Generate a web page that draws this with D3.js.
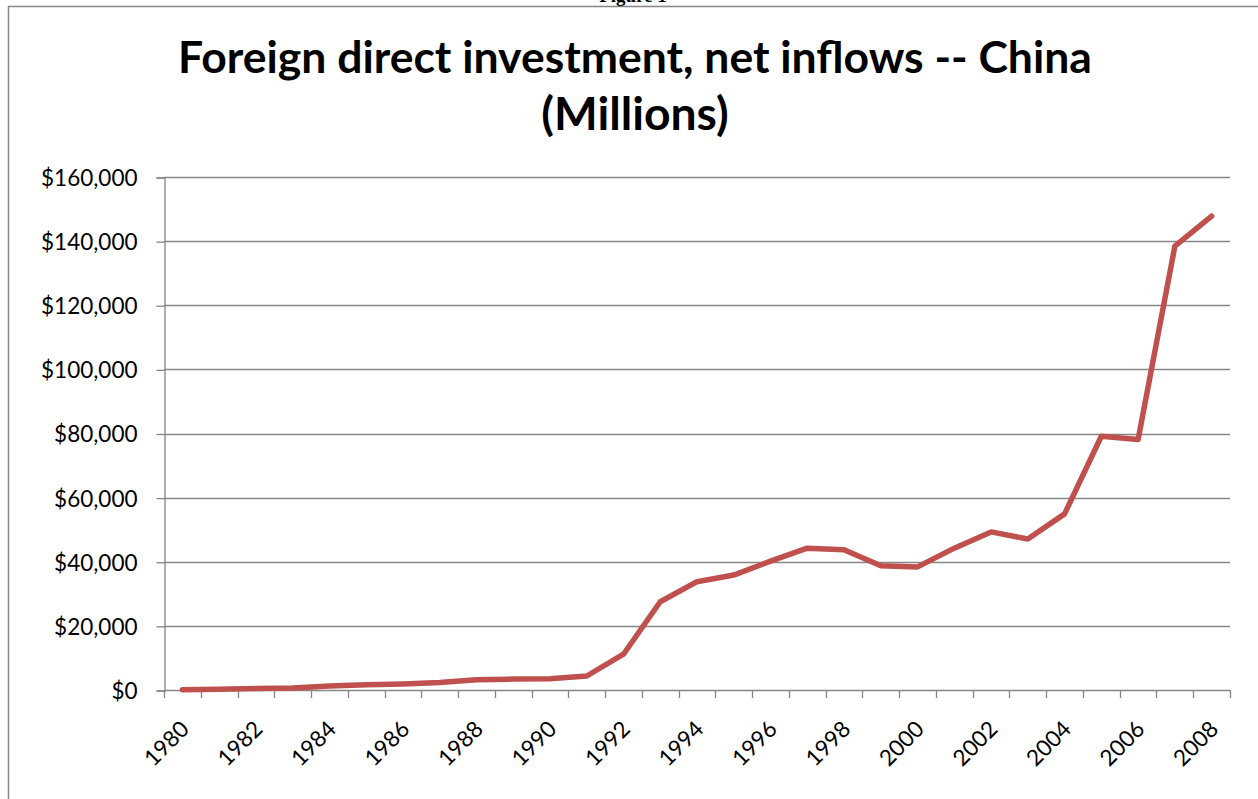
<!DOCTYPE html>
<html>
<head>
<meta charset="utf-8">
<script src="https://cdn.jsdelivr.net/npm/d3@7"></script>
<style>
  html, body { margin: 0; padding: 0; background: #fff; }
  svg { display: block; }
</style>
</head>
<body>
<svg id="chart" width="1258" height="799"></svg>
<script>
const years = [1980,1981,1982,1983,1984,1985,1986,1987,1988,1989,1990,1991,1992,1993,1994,1995,1996,1997,1998,1999,2000,2001,2002,2003,2004,2005,2006,2007,2008];
const fdiMillions = [57,265,430,636,1258,1659,1875,2314,3194,3393,3487,4366,11156,27515,33787,35849,40180,44237,43751,38753,38399,44241,49308,47077,54936,79127,78095,138413,147791];
const yTicks = [0,20000,40000,60000,80000,100000,120000,140000,160000];
const xLabelYears = years.filter(y => y % 2 === 0);
const titleLines = ["Foreign direct investment, net inflows -- China", "(Millions)"];

const svg = d3.select("#chart");
const font = "Lato, 'Noto Sans', 'DejaVu Sans', sans-serif";

// frame
svg.append("line").attr("x1", 8.5).attr("x2", 8.5).attr("y1", 6).attr("y2", 799)
  .attr("stroke", "#868686").attr("stroke-width", 1.5);
svg.append("line").attr("x1", 8).attr("x2", 1258).attr("y1", 6.5).attr("y2", 6.5)
  .attr("stroke", "#868686").attr("stroke-width", 1.5);

// caption above the frame (cut off at the top edge, as in the reference)
svg.append("text").attr("x", 633).attr("y", 2).attr("text-anchor", "middle")
  .attr("font-family", "'Liberation Serif', serif").attr("font-weight", "bold")
  .attr("font-size", 19).text("Figure 1");

const pLeft = 164, pRight = 1230, pTop = 177, pBottom = 690;

const x = d3.scaleBand().domain(years).range([pLeft, pRight]).padding(0);
const y = d3.scaleLinear().domain([0, 160000]).range([pBottom, pTop]);

// gridlines
svg.append("g").selectAll("line").data(yTicks.filter(d => d > 0)).join("line")
  .attr("x1", pLeft).attr("x2", pRight)
  .attr("y1", d => Math.round(y(d)) + 0.5).attr("y2", d => Math.round(y(d)) + 0.5)
  .attr("stroke", "#868686").attr("stroke-width", 1.3);

// y axis
const yAxis = svg.append("g").attr("transform", `translate(${pLeft + 0.5},0.5)`)
  .call(d3.axisLeft(y).tickValues(yTicks).tickSize(8).tickPadding(19)
    .tickFormat(d => "$" + d3.format(",")(d)));
yAxis.select(".domain").attr("stroke", "#868686").attr("stroke-width", 1.3);
yAxis.selectAll(".tick line").attr("stroke", "#868686").attr("stroke-width", 1.3);
yAxis.selectAll(".tick text").attr("font-family", font).attr("font-size", 22.5)
  .attr("fill", "#000").attr("dy", "0.35em");

// x axis
const xAxis = svg.append("g").attr("transform", `translate(0,${pBottom + 0.5})`)
  .call(d3.axisBottom(x).tickSize(0).tickFormat(d => xLabelYears.includes(d) ? d : ""));
xAxis.select(".domain").attr("stroke", "#868686").attr("stroke-width", 1.3)
  .attr("d", `M${pLeft},0H${pRight}`);
// boundary tick marks
const bounds = years.map(d => x(d)).concat([pRight]);
svg.append("g").selectAll("line").data(bounds).join("line")
  .attr("x1", d => Math.round(d) + 0.5).attr("x2", d => Math.round(d) + 0.5)
  .attr("y1", pBottom).attr("y2", pBottom + 8)
  .attr("stroke", "#868686").attr("stroke-width", 1.3);
xAxis.selectAll(".tick text")
  .attr("font-family", font).attr("font-size", 22.5).attr("fill", "#000")
  .attr("text-anchor", "end").attr("dy", 0).attr("y", 0)
  .attr("transform", "translate(8,40) rotate(-45)");

// line
const line = d3.line().x((d, i) => x(years[i]) + x.bandwidth() / 2).y(d => y(d));
svg.append("path").datum(fdiMillions).attr("d", line)
  .attr("fill", "none").attr("stroke", "#C0504D").attr("stroke-width", 5.5)
  .attr("stroke-linejoin", "round").attr("stroke-linecap", "round");

// title
const t1 = svg.append("text").attr("x", 635).attr("y", 73).attr("text-anchor", "middle")
  .attr("font-family", font).attr("font-weight", "bold").attr("font-size", 42)
  .text(titleLines[0]);
const w = t1.node().getComputedTextLength();
const fs = 42 * 914 / w;
t1.attr("font-size", fs);
svg.append("text").attr("x", 635).attr("y", 130).attr("text-anchor", "middle")
  .attr("font-family", font).attr("font-weight", "bold").attr("font-size", fs * 1.04)
  .text(titleLines[1]);
</script>
</body>
</html>
